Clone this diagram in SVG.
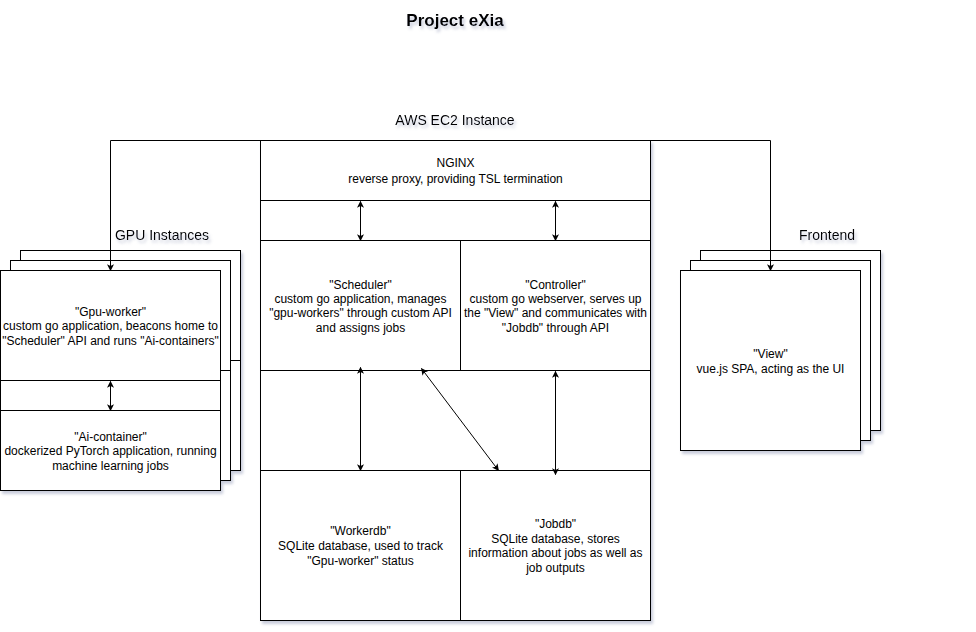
<svg xmlns="http://www.w3.org/2000/svg" width="976" height="632" viewBox="0 0 976 632">
<style>
.box{fill:#ffffff;stroke:#000000;stroke-width:1}
.ln{fill:none;stroke:#000000;stroke-width:1}
text{font-family:"Liberation Sans",Arial,sans-serif;font-size:12px;fill:#000000;text-anchor:middle}
.lbl{font-size:14px}
.title{font-size:17px;font-weight:bold}
</style>
<defs>
<filter id="sh" x="-10%" y="-10%" width="130%" height="130%">
<feDropShadow dx="2" dy="3" stdDeviation="1.5" flood-color="#8890b0" flood-opacity="0.45"/>
</filter>
<marker id="ah" viewBox="0 0 10 10" refX="9" refY="5" markerWidth="7" markerHeight="7" orient="auto-start-reverse" markerUnits="userSpaceOnUse">
<path d="M0,0 L10,5 L0,10 L2.5,5 Z" fill="#000"/>
</marker>
</defs>
<rect width="976" height="632" fill="#ffffff"/>
<g filter="url(#sh)">
<text class="title" x="455" y="26">Project eXia</text>
<text class="lbl" x="455" y="125">AWS EC2 Instance</text>
<text class="lbl" x="162" y="240">GPU Instances</text>
<text class="lbl" x="827" y="240">Frontend</text>
</g>
<g transform="translate(0.5,0.5)">
<g id="ec2" filter="url(#sh)">
<rect class="box" x="260" y="140" width="390" height="480"/>
</g>
<g id="nginx">
<rect class="box" x="260" y="140" width="390" height="60"/>
<text x="455" y="166">NGINX</text>
<text x="455" y="182">reverse proxy, providing TSL termination</text>
</g>
<g id="band1"><rect class="box" x="260" y="200" width="390" height="40"/></g>
<g id="scheduler">
<rect class="box" x="260" y="240" width="200" height="130"/>
<text x="360" y="288">"Scheduler"</text>
<text x="360" y="302">custom go application, manages</text>
<text x="360" y="316">"gpu-workers" through custom API</text>
<text x="360" y="331">and assigns jobs</text>
</g>
<g id="controller">
<rect class="box" x="460" y="240" width="190" height="130"/>
<text x="555" y="288">"Controller"</text>
<text x="555" y="302">custom go webserver, serves up</text>
<text x="555" y="316">the "View" and communicates with</text>
<text x="555" y="331">"Jobdb" through API</text>
</g>
<g id="band2"><rect class="box" x="260" y="370" width="390" height="100"/></g>
<g id="workerdb">
<rect class="box" x="260" y="470" width="200" height="150"/>
<text x="360" y="534">"Workerdb"</text>
<text x="360" y="549">SQLite database, used to track</text>
<text x="360" y="564">"Gpu-worker" status</text>
</g>
<g id="jobdb">
<rect class="box" x="460" y="470" width="190" height="150"/>
<text x="555" y="527">"Jobdb"</text>
<text x="555" y="542">SQLite database, stores</text>
<text x="555" y="556">information about jobs as well as</text>
<text x="555" y="571">job outputs</text>
</g>
<g id="gpu-stack" filter="url(#sh)">
<rect class="box" x="20" y="250" width="220" height="220"/>
<line class="ln" x1="230" y1="360" x2="240" y2="360"/>
<rect class="box" x="10" y="260" width="220" height="220"/>
<line class="ln" x1="220" y1="370" x2="230" y2="370"/>
<rect class="box" x="0" y="270" width="220" height="220"/>
</g>
<g id="gpu-worker">
<rect class="box" x="0" y="270" width="220" height="110"/>
<text x="110" y="315">"Gpu-worker"</text>
<text x="110" y="329">custom go application, beacons home to</text>
<text x="110" y="344">"Scheduler" API and runs "Ai-containers"</text>
</g>
<g id="ai-container">
<rect class="box" x="0" y="410" width="220" height="80"/>
<text x="110" y="440">"Ai-container"</text>
<text x="110" y="454">dockerized PyTorch application, running</text>
<text x="110" y="469">machine learning jobs</text>
</g>
<g id="frontend-stack" filter="url(#sh)">
<rect class="box" x="700" y="250" width="180" height="180"/>
<rect class="box" x="690" y="260" width="180" height="180"/>
<rect class="box" x="680" y="270" width="180" height="180"/>
</g>
<g id="view">
<text x="770" y="357">"View"</text>
<text x="770" y="372">vue.js SPA, acting as the UI</text>
</g>
<g id="connectors">
<polyline class="ln" points="260,140 110,140 110,270" marker-end="url(#ah)"/>
<polyline class="ln" points="650,140 770,140 770,270" marker-end="url(#ah)"/>
<line class="ln" x1="360" y1="201" x2="360" y2="240" marker-start="url(#ah)" marker-end="url(#ah)"/>
<line class="ln" x1="555" y1="201" x2="555" y2="240" marker-start="url(#ah)" marker-end="url(#ah)"/>
<line class="ln" x1="110" y1="381" x2="110" y2="410" marker-start="url(#ah)" marker-end="url(#ah)"/>
<line class="ln" x1="360" y1="367" x2="360" y2="470" marker-start="url(#ah)" marker-end="url(#ah)"/>
<line class="ln" x1="555" y1="371" x2="555" y2="474" marker-start="url(#ah)" marker-end="url(#ah)"/>
<line class="ln" x1="421" y1="368" x2="498" y2="470" marker-start="url(#ah)" marker-end="url(#ah)"/>
</g>
</g>
</svg>
